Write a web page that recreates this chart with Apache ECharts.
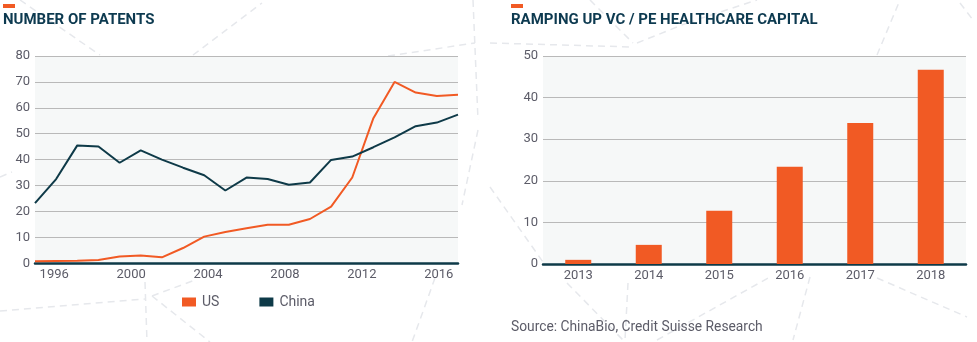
<!DOCTYPE html>
<html>
<head>
<meta charset="utf-8">
<script src="https://cdn.jsdelivr.net/npm/echarts@6/dist/echarts.min.js"></script>
<style>
html,body{margin:0;padding:0;background:#fff;}
#c{width:977px;height:342px;}
</style>
</head>
<body>
<div id="c"></div>
<script>
// ---- Data ----
const patentYears = ['1996','1997','1998','1999','2000','2001','2002','2003','2004','2005','2006','2007','2008','2009','2010','2011','2012','2013','2014','2015','2016'];
const usPatents = [0.8, 0.9, 1.0, 1.3, 2.6, 3.0, 2.3, 5.9, 10.3, 12.1, 13.5, 14.9, 14.9, 17.1, 21.9, 33.1, 56.0, 70.0, 65.9, 64.6, 65.0];
const chinaPatents = [23.2, 32.5, 45.5, 45.1, 38.8, 43.6, 40.0, 36.9, 34.0, 28.1, 33.1, 32.5, 30.3, 31.2, 39.9, 41.2, 44.8, 48.6, 52.9, 54.3, 57.4];
const patentTickYears = ['1995','1996','1997','1998','1999','2000','2001','2002','2003','2004','2005','2006','2007','2008','2009','2010','2011','2012','2013','2014','2015','2016','2017'];
const capitalYears = ['2013','2014','2015','2016','2017','2018'];
const capitalValues = [1.0, 4.6, 12.8, 23.4, 33.9, 46.7];

const ORANGE = '#f15a24';
const TEAL = '#0e3a48';
const GRIDC = '#b9b9b9';
const TXT = '#5c5c68';
const TITLEC = '#0d3a50';
const FONT = 'Roboto, "Open Sans", sans-serif';

// decorative dashed background lines
const deco = [
  [20,0,100,55],[193,55,262,3],[388,56,475,43],[473,0,478,120],[478,130,462,205],
  [0,311,145,299],[145,282,147,342],[152,296,210,342],[152,296,195,280],[435,278,412,342],
  [0,177,12,172],
  [490,43,633,47],[590,0,633,43],[637,43,687,23],[687,23,757,0],[877,55,900,0],[960,3,973,20],
  [490,187,543,262],[567,283,623,340],[628,283,625,340],[657,340,770,277],[810,277,793,340],[877,278,967,317]
];
const graphics = deco.map(d => ({
  type: 'line', z: -10, silent: true,
  shape: {x1: d[0], y1: d[1], x2: d[2], y2: d[3]},
  style: {stroke: '#e6e8ec', lineWidth: 1.5, lineDash: [7, 5]}
}));
graphics.push({type:'rect', shape:{x:3,y:4,width:12,height:4}, style:{fill:ORANGE}});
graphics.push({type:'rect', shape:{x:511,y:4,width:12,height:4}, style:{fill:ORANGE}});

const chart = echarts.init(document.getElementById('c'), null, {renderer:'canvas'});
chart.setOption({
  animation: false,
  textStyle: {fontFamily: FONT},
  graphic: graphics,
  title: [
    {text: 'NUMBER OF PATENTS', left: 3, top: 13, padding: 0,
     textStyle: {fontSize: 15, fontWeight: 'bold', color: TITLEC, fontFamily: FONT}},
    {text: 'RAMPING UP VC / PE HEALTHCARE CAPITAL', left: 511, top: 13, padding: 0,
     textStyle: {fontSize: 15, fontWeight: 'bold', color: TITLEC, fontFamily: FONT}},
    {text: 'Source: ChinaBio, Credit Suisse Research', left: 511, top: 321, padding: 0,
     textStyle: {fontSize: 13.8, fontWeight: 'normal', color: TXT, fontFamily: FONT}}
  ],
  legend: {
    left: 182, top: 295, itemWidth: 14, itemHeight: 9, itemGap: 40, icon: 'rect', padding: 0,
    data: ['US', 'China'],
    textStyle: {fontSize: 14, color: TXT, fontFamily: FONT, padding: [0,0,0,1]}
  },
  grid: [
    {left: 35, right: 519, top: 56, bottom: 78.7, show: true, backgroundColor: '#f6f8f8', borderWidth: 0},
    {left: 543, right: 11, top: 56, bottom: 78, show: true, backgroundColor: '#f6f8f8', borderWidth: 0}
  ],
  xAxis: [
    {type: 'category', gridIndex: 0, data: patentTickYears, boundaryGap: false,
     axisLine: {show: true, lineStyle: {color: TEAL, width: 2.5}}, axisTick: {show: false},
     axisLabel: {color: TXT, fontSize: 13, margin: 5, fontFamily: FONT,
       interval: (i) => (i - 1) % 4 === 0}},
    {type: 'category', gridIndex: 0, data: patentYears, boundaryGap: false, show: false},
    {type: 'category', gridIndex: 1, data: capitalYears,
     axisLine: {show: true, lineStyle: {color: TEAL, width: 2.5}}, axisTick: {show: false},
     axisLabel: {color: TXT, fontSize: 13, margin: 5, fontFamily: FONT}}
  ],
  yAxis: [
    {type: 'value', gridIndex: 0, min: 0, max: 80, interval: 10,
     axisLine: {show: false}, axisTick: {show: false},
     axisLabel: {color: TXT, fontSize: 13, margin: 5, fontFamily: FONT},
     splitLine: {lineStyle: {color: GRIDC, width: 1}}},
    {type: 'value', gridIndex: 1, min: 0, max: 50, interval: 10,
     axisLine: {show: false}, axisTick: {show: false},
     axisLabel: {color: TXT, fontSize: 13, margin: 5, fontFamily: FONT},
     splitLine: {lineStyle: {color: GRIDC, width: 1}}}
  ],
  series: [
    {name: 'US', type: 'line', xAxisIndex: 1, yAxisIndex: 0, data: usPatents,
     symbol: 'none', lineStyle: {color: ORANGE, width: 2}, itemStyle: {color: ORANGE}},
    {name: 'China', type: 'line', xAxisIndex: 1, yAxisIndex: 0, data: chinaPatents,
     symbol: 'none', lineStyle: {color: TEAL, width: 2}, itemStyle: {color: TEAL}},
    {name: 'Capital', type: 'bar', xAxisIndex: 2, yAxisIndex: 1, data: capitalValues,
     barWidth: 26, itemStyle: {color: ORANGE}}
  ]
});
</script>
</body>
</html>
